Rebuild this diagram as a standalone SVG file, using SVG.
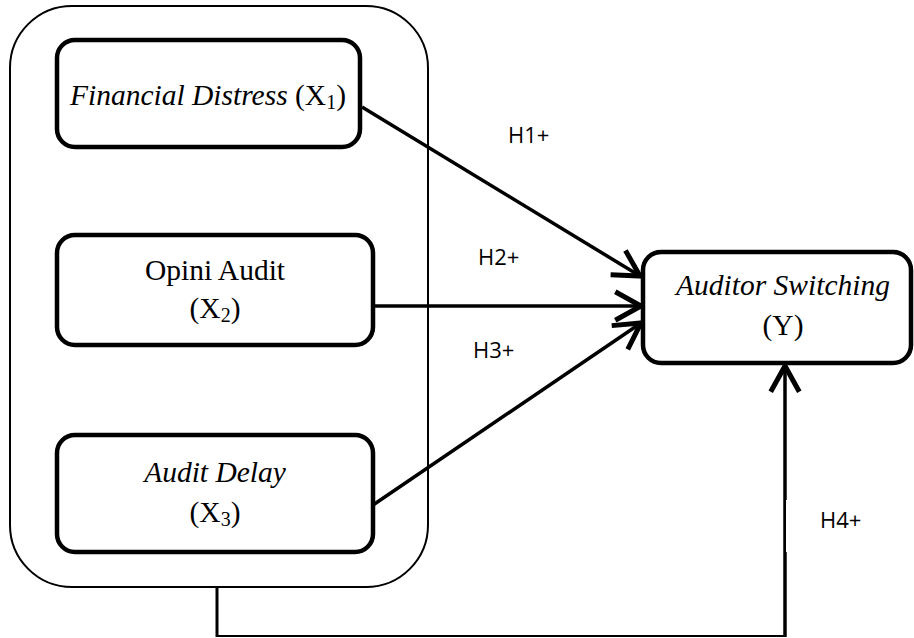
<svg xmlns="http://www.w3.org/2000/svg" width="914" height="638" viewBox="0 0 914 638">
  <defs>
    <style>
      .node { fill: #fff; stroke: #000; stroke-width: 4.5; }
      .group { fill: #fff; stroke: #000; stroke-width: 2; }
      .lbl { font-family: "Liberation Serif", "Times New Roman", serif; font-size: 29.5px; fill: #000; text-anchor: middle; }
      .it { font-style: italic; }
      .sub { font-size: 20px; }
      .hyp { font-family: "Open Sans", "Liberation Sans", sans-serif; font-size: 22px; fill: #000; }
      .edge { fill: none; stroke: #000; stroke-width: 3.5; }
    </style>
    <marker id="chev" markerUnits="userSpaceOnUse" markerWidth="40" markerHeight="40" refX="0" refY="0" viewBox="-22 -14 26 28" orient="auto" overflow="visible">
      <path d="M-18,-10 L0,0 L-18,10" fill="none" stroke="#000" stroke-width="3.5" stroke-linejoin="miter"/>
    </marker>
  </defs>

  <!-- outer grouping of the independent variables -->
  <rect id="independent-group" class="group" x="10" y="6" width="418" height="581" rx="62" ry="62"/>

  <g id="connectors">
    <line class="edge" x1="362" y1="107" x2="640" y2="276" marker-end="url(#chev)"/>
    <line class="edge" x1="373" y1="306" x2="641" y2="306" marker-end="url(#chev)"/>
    <line class="edge" x1="373" y1="505" x2="641" y2="323" marker-end="url(#chev)"/>
    <!-- H4: from the whole group to Y -->
    <line x1="217" y1="587" x2="217" y2="637" stroke="#000" stroke-width="3"/>
    <line x1="216" y1="636" x2="786" y2="636" stroke="#000" stroke-width="2"/>
    <line class="edge" x1="785" y1="637" x2="785" y2="366" stroke-width="4" marker-end="url(#chev)"/>
  </g>

  <g id="x1">
    <rect class="node" x="57" y="40" width="303" height="107" rx="18" ry="18"/>
    <text class="lbl" x="208" y="105"><tspan class="it">Financial Distress</tspan> (X<tspan class="sub" dy="4">1</tspan><tspan dy="-4">)</tspan></text>
  </g>

  <g id="x2">
    <rect class="node" x="57" y="235" width="316" height="110" rx="18" ry="18"/>
    <text class="lbl" x="215" y="280">Opini Audit</text>
    <text class="lbl" x="215" y="318">(X<tspan class="sub" dy="4">2</tspan><tspan dy="-4">)</tspan></text>
  </g>

  <g id="x3">
    <rect class="node" x="57" y="435" width="316" height="117" rx="18" ry="18"/>
    <text class="lbl it" x="215" y="482">Audit Delay</text>
    <text class="lbl" x="215" y="522">(X<tspan class="sub" dy="4">3</tspan><tspan dy="-4">)</tspan></text>
  </g>

  <g id="y">
    <rect class="node" x="643" y="252" width="268" height="111" rx="18" ry="18"/>
    <text class="lbl it" x="783" y="295">Auditor Switching</text>
    <text class="lbl" x="783" y="335">(Y)</text>
  </g>

  <g id="labels">
    <text class="hyp" x="508" y="143">H1+</text>
    <text class="hyp" x="478" y="265">H2+</text>
    <text class="hyp" x="473" y="358">H3+</text>
    <rect x="786" y="500" width="6" height="52" fill="#fff"/>
    <text class="hyp" x="820" y="528">H4+</text>
  </g>
</svg>
